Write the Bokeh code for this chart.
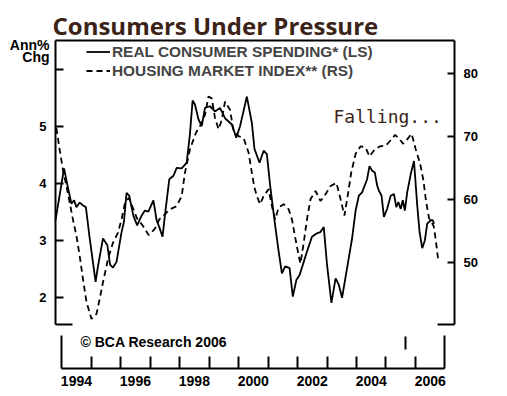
from bokeh.plotting import figure
from bokeh.models import (LinearAxis, Range1d, FixedTicker, Legend, LegendItem, Label)
from bokeh.embed import file_html
from bokeh.resources import INLINE

# ---------------- data ----------------
spend_year = [1993.79, 1994.08, 1994.20, 1994.33, 1994.42, 1994.50, 1994.61, 1994.72, 1994.82,
              1994.95, 1995.15, 1995.24, 1995.40, 1995.55, 1995.64, 1995.74, 1995.86, 1996.03,
              1996.11, 1996.20, 1996.29, 1996.43, 1996.56, 1996.71, 1996.82, 1996.94, 1997.11,
              1997.22, 1997.31, 1997.42, 1997.50, 1997.65, 1997.79, 1997.90, 1998.07, 1998.24,
              1998.35, 1998.44, 1998.52, 1998.64, 1998.75, 1998.86, 1999.03, 1999.20, 1999.37,
              1999.54, 1999.77, 1999.92, 2000.05, 2000.28, 2000.45, 2000.54, 2000.71, 2000.85,
              2000.96, 2001.07, 2001.24, 2001.36, 2001.47, 2001.58, 2001.73, 2001.84, 2001.96,
              2002.07, 2002.21, 2002.32, 2002.49, 2002.66, 2002.77, 2002.89, 2003.00, 2003.15,
              2003.29, 2003.40, 2003.51, 2003.68, 2003.85, 2003.97, 2004.08, 2004.19, 2004.36,
              2004.44, 2004.53, 2004.62, 2004.70, 2004.76, 2004.85, 2004.93, 2005.04, 2005.16,
              2005.27, 2005.35, 2005.42, 2005.50, 2005.57, 2005.64, 2005.72, 2005.84, 2005.95,
              2006.06, 2006.14, 2006.23, 2006.32, 2006.40, 2006.52, 2006.59, 2006.63]
spend_val = [3.35, 4.26, 3.95, 3.64, 3.70, 3.58, 3.66, 3.61, 3.58,
             3.03, 2.27, 2.57, 3.03, 2.91, 2.57, 2.52, 2.62, 3.14,
             3.32, 3.83, 3.78, 3.43, 3.26, 3.43, 3.52, 3.50, 3.70,
             3.35, 3.23, 3.06, 3.43, 4.07, 4.13, 4.27, 4.26, 4.36,
             4.86, 5.45, 5.38, 5.12, 5.00, 5.32, 5.35, 5.26, 5.32,
             5.14, 5.03, 4.80, 5.00, 5.52, 5.06, 4.60, 4.36, 4.57,
             4.51, 3.96, 3.26, 2.80, 2.42, 2.54, 2.51, 2.01, 2.30,
             2.39, 2.62, 2.80, 3.06, 3.12, 3.14, 3.23, 2.57, 1.90,
             2.33, 2.22, 1.99, 2.51, 3.03, 3.52, 3.78, 3.84, 4.07,
             4.30, 4.22, 4.19, 3.96, 3.87, 3.78, 3.41, 3.55, 3.78,
             3.81, 3.58, 3.67, 3.55, 3.70, 3.52, 3.84, 4.16, 4.39,
             3.61, 3.14, 2.86, 3.00, 3.29, 3.35, 3.35, 3.29]

house_year = [1993.82, 1993.93, 1994.04, 1994.16, 1994.27, 1994.38, 1994.50, 1994.61, 1994.72,
              1994.84, 1995.01, 1995.18, 1995.29, 1995.40, 1995.57, 1995.74, 1995.91, 1996.03,
              1996.15, 1996.28, 1996.40, 1996.55, 1996.75, 1996.95, 1997.16, 1997.31, 1997.50,
              1997.67, 1997.90, 1998.07, 1998.18, 1998.35, 1998.55, 1998.69, 1998.86, 1998.98,
              1999.09, 1999.20, 1999.32, 1999.43, 1999.54, 1999.71, 1999.82, 2000.00, 2000.17,
              2000.34, 2000.45, 2000.54, 2000.62, 2000.73, 2000.85, 2001.02, 2001.13, 2001.24,
              2001.36, 2001.53, 2001.70, 2001.81, 2001.93, 2002.04, 2002.10, 2002.21, 2002.32,
              2002.44, 2002.61, 2002.78, 2002.95, 2003.12, 2003.32, 2003.46, 2003.59, 2003.70,
              2003.82, 2003.97, 2004.14, 2004.31, 2004.44, 2004.62, 2004.80, 2004.99, 2005.13,
              2005.31, 2005.45, 2005.58, 2005.72, 2005.87, 2006.01, 2006.16, 2006.27, 2006.36,
              2006.46, 2006.54, 2006.62, 2006.69, 2006.78]
house_val = [71.3, 67.9, 64.7, 62.1, 59.5, 56.8, 54.2, 51.0, 47.4,
             43.7, 41.0, 41.8, 44.2, 46.8, 50.5, 53.1, 54.7, 56.8,
             59.5, 60.2, 58.8, 57.0, 55.8, 54.3, 55.3, 56.8, 57.6,
             58.4, 58.9, 60.5, 64.2, 67.9, 70.5, 71.6, 73.4, 76.3,
             76.0, 72.9, 71.1, 72.6, 75.5, 74.2, 71.1, 70.0, 69.7,
             67.4, 64.2, 61.8, 60.5, 59.2, 60.5, 61.6, 58.9, 56.8,
             58.7, 59.2, 58.4, 56.8, 53.7, 51.0, 49.8, 53.1, 56.8,
             60.0, 61.3, 59.7, 60.8, 62.1, 62.6, 60.0, 57.4, 60.5,
             64.2, 67.2, 68.4, 68.2, 66.8, 67.9, 68.4, 68.5, 69.2,
             70.2, 69.6, 68.8, 69.5, 70.4, 67.9, 65.6, 63.0, 59.6,
             57.0, 56.4, 55.7, 53.5, 50.0]

left_ticks = [2, 3, 4, 5]
left_minor = [6]
right_ticks = [50, 60, 70, 80]
year_bounds = list(range(1994, 2008))
year_labels = [1994, 1996, 1998, 2000, 2002, 2004, 2006]

# ---------------- geometry (data units) ----------------
# whole canvas
CX0, CX1 = 1991.9240, 2009.1221
CY0, CY1 = 0.2579, 7.2053
CR0, CR1 = 28.683, 91.540
# main chart box
X0, X1 = 1993.79, 2007.325
YL0, YL1 = 1.5211, 6.5035
YR0, YR1 = 40.111, 85.19
# year box
BX0, BX1 = 1994, 2007
BY0, BY1 = 0.7491, 1.3281

FONT = "Liberation Sans"
BROWN = "#3b2417"

p = figure(width=507, height=396, x_range=Range1d(CX0, CX1), y_range=Range1d(CY0, CY1),
           x_axis_location=None, y_axis_location=None, toolbar_location=None,
           output_backend="svg", min_border=0, min_border_left=0, min_border_right=0,
           min_border_top=0, min_border_bottom=0)
p.outline_line_color = None
p.grid.visible = False
p.extra_y_ranges = {"right": Range1d(CR0, CR1)}


def style(ax, tin, size="13px", standoff=9):
    ax.axis_line_width = 2
    ax.axis_line_color = "black"
    ax.major_tick_in = tin
    ax.major_tick_out = 0
    ax.major_tick_line_width = 2
    ax.minor_tick_in = tin
    ax.minor_tick_out = 0
    ax.minor_tick_line_width = 2
    ax.major_label_text_font = FONT
    ax.major_label_text_font_style = "bold"
    ax.major_label_text_font_size = size
    ax.major_label_text_color = "black"
    ax.major_label_standoff = standoff


# main chart axes
la = LinearAxis(ticker=FixedTicker(ticks=left_ticks, minor_ticks=left_minor),
                fixed_location=X0, bounds=(YL0, YL1))
ra = LinearAxis(y_range_name="right", ticker=FixedTicker(ticks=right_ticks),
                fixed_location=X1, bounds=(YR0, YR1))
ta = LinearAxis(ticker=FixedTicker(ticks=[]), fixed_location=YL1, bounds=(X0, X1))
style(la, 8)
style(ra, 7)
style(ta, 0)
ta.major_tick_line_color = None
ta.minor_tick_line_color = None
p.add_layout(la, "left")
p.add_layout(ra, "right")
p.add_layout(ta, "above")

# year box axes
mid = [y + 0.5 for y in year_labels]
ba = LinearAxis(ticker=FixedTicker(ticks=mid, minor_ticks=year_bounds[1:-1]),
                major_label_overrides={m: str(y) for m, y in zip(mid, year_labels)},
                fixed_location=BY0, bounds=(BX0, BX1))
style(ba, 12, size="14px", standoff=7)
ba.major_tick_line_color = None
p.add_layout(ba, "below")
for side, loc in (("left", BX0), ("right", BX1)):
    ax = LinearAxis(ticker=FixedTicker(ticks=[]), fixed_location=loc, bounds=(BY0, BY1))
    style(ax, 0)
    ax.major_tick_line_color = None
    ax.minor_tick_line_color = None
    p.add_layout(ax, side)

# series
r1 = p.line(spend_year, spend_val, line_color="black", line_width=1.8)
r2 = p.line(house_year, house_val, y_range_name="right", line_color="black",
            line_width=1.8, line_dash="6 4")

# short end marks at the bottom of the main box
dx = 17 / 29.48
p.segment(x0=[X0, X1 - dx], x1=[X0 + dx, X1], y0=[YL0, YL0], y1=[YL0, YL0],
          line_color="black", line_width=2)
# small stray mark inside the year box
p.segment(x0=[2005.662], x1=[2005.662], y0=[1.0825], y1=[1.3105],
          line_color="black", line_width=2)

legend = Legend(items=[LegendItem(label="REAL CONSUMER SPENDING* (LS)", renderers=[r1]),
                       LegendItem(label="HOUSING MARKET INDEX** (RS)", renderers=[r2])],
                location=(86, 316), orientation="vertical")
legend.background_fill_alpha = 0
legend.border_line_color = None
legend.padding = 0
legend.margin = 0
legend.spacing = 0
legend.glyph_width = 24
legend.glyph_height = 19
legend.label_height = 19
legend.label_standoff = 2
legend.label_text_font = FONT
legend.label_text_font_style = "bold"
legend.label_text_font_size = "15.4px"
legend.label_text_baseline = "middle"
p.add_layout(legend)

p.add_layout(Label(x=1993.688, y=6.7667, text="Consumers Under Pressure",
                   text_font="Open Sans", text_font_style="bold", text_font_size="24px",
                   text_color=BROWN, text_baseline="alphabetic", text_align="left"))
p.add_layout(Label(x=1993.586, y=6.4333, text="Ann%", text_font=FONT, text_font_style="bold",
                   text_font_size="14px", text_color="black", text_align="right",
                   text_baseline="alphabetic"))
p.add_layout(Label(x=1993.586, y=6.2228, text="Chg", text_font=FONT, text_font_style="bold",
                   text_font_size="14px", text_color="black", text_align="right",
                   text_baseline="alphabetic"))
p.add_layout(Label(x=2003.22, y=5.170, text="Falling...", text_font="DejaVu Sans Mono",
                   text_font_size="18px", text_color=BROWN, text_baseline="alphabetic"))
p.add_layout(Label(x=1994.638, y=1.2228, text="\u00a9 BCA Research 2006", text_font=FONT,
                   text_font_style="bold", text_font_size="14px", text_color="black",
                   text_baseline="middle"))

open("out.html", "w").write(file_html(p, INLINE))
